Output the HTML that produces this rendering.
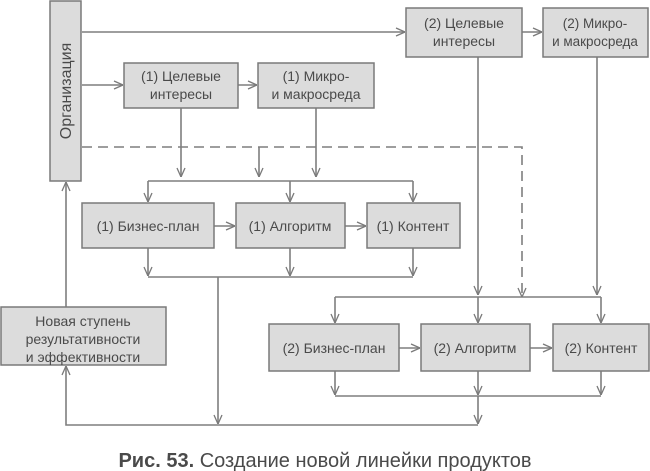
<!DOCTYPE html>
<html><head><meta charset="utf-8"><style>
html,body{margin:0;padding:0;background:#fff;}
svg{display:block;}
text{font-family:"Liberation Sans","DejaVu Sans",sans-serif;fill:#4a4a4a;}
</style></head><body>
<svg width="650" height="471" viewBox="0 0 650 471" xmlns="http://www.w3.org/2000/svg">
<defs>
<marker id="a" viewBox="0 0 10 10" refX="10" refY="5" markerWidth="10" markerHeight="10" markerUnits="userSpaceOnUse" orient="auto">
<path d="M1,1 L10,5 L1,9" fill="none" stroke="#7a7a7a" stroke-width="1.3"/>
</marker>
</defs>
<g stroke="#7f7f7f" stroke-width="1.6" fill="none">
<path d="M82 32 H405" marker-end="url(#a)"/>
<path d="M522 32 H542" marker-end="url(#a)"/>
<path d="M82 85 H123" marker-end="url(#a)"/>
<path d="M238 85 H257" marker-end="url(#a)"/>
<path d="M82 147 H522 V297" stroke-dasharray="10,6" marker-end="url(#a)"/>
<path d="M259 147 V177" marker-end="url(#a)"/>
<path d="M181 108 V177" marker-end="url(#a)"/>
<path d="M316 108 V177" marker-end="url(#a)"/>
<path d="M148 181 H413"/>
<path d="M148 181 V202" marker-end="url(#a)"/>
<path d="M290 181 V202" marker-end="url(#a)"/>
<path d="M413 181 V202" marker-end="url(#a)"/>
<path d="M214 226 H235" marker-end="url(#a)"/>
<path d="M345 226 H366" marker-end="url(#a)"/>
<path d="M148 248 V276" marker-end="url(#a)"/>
<path d="M290 248 V276" marker-end="url(#a)"/>
<path d="M413 248 V276" marker-end="url(#a)"/>
<path d="M148 277 H413"/>
<path d="M218 277 V424" marker-end="url(#a)"/>
<path d="M478 57 V295" marker-end="url(#a)"/>
<path d="M597 57 V295" marker-end="url(#a)"/>
<path d="M335 297 H601"/>
<path d="M335 297 V323" marker-end="url(#a)"/>
<path d="M478 297 V323" marker-end="url(#a)"/>
<path d="M601 297 V323" marker-end="url(#a)"/>
<path d="M399 348 H420" marker-end="url(#a)"/>
<path d="M530 348 H552" marker-end="url(#a)"/>
<path d="M335 371 V395" marker-end="url(#a)"/>
<path d="M478 371 V395" marker-end="url(#a)"/>
<path d="M601 371 V395" marker-end="url(#a)"/>
<path d="M335 396 H601"/>
<path d="M478 396 V424" marker-end="url(#a)"/>
<path d="M478 425 H66 V366" marker-end="url(#a)"/>
<path d="M66 307 V182" marker-end="url(#a)"/>
</g>
<g fill="#dcdcdc" stroke="#7a7a7a" stroke-width="1.5">
<rect x="50" y="1" width="31" height="180"/>
<rect x="406" y="8" width="116" height="49"/>
<rect x="543" y="8" width="105" height="49"/>
<rect x="124" y="63" width="114" height="45"/>
<rect x="258" y="63" width="116" height="45"/>
<rect x="82" y="203" width="132" height="45"/>
<rect x="236" y="203" width="109" height="45"/>
<rect x="367" y="203" width="93" height="45"/>
<rect x="269" y="324" width="130" height="47"/>
<rect x="421" y="324" width="109" height="47"/>
<rect x="553" y="324" width="96" height="47"/>
<rect x="1" y="307" width="165" height="58"/>
</g>
<g font-size="14" text-anchor="middle">
<text transform="translate(71,91) rotate(-90)" font-size="16">Организация</text>
<text x="464" y="28">(2) Целевые</text><text x="464" y="46">интересы</text>
<text x="595" y="28" font-size="13.5">(2) Микро-</text><text x="595" y="46" font-size="13.5">и макросреда</text>
<text x="181" y="81">(1) Целевые</text><text x="181" y="99">интересы</text>
<text x="316" y="81">(1) Микро-</text><text x="316" y="99">и макросреда</text>
<text x="148" y="231">(1) Бизнес-план</text>
<text x="290" y="231">(1) Алгоритм</text>
<text x="413" y="231">(1) Контент</text>
<text x="334" y="353">(2) Бизнес-план</text>
<text x="475" y="353">(2) Алгоритм</text>
<text x="601" y="353">(2) Контент</text>
<text x="83" y="326">Новая ступень</text>
<text x="83" y="344">результативности</text>
<text x="83" y="362">и эффективности</text>
</g>
<text x="325" y="467" font-size="20" text-anchor="middle" fill="#555"><tspan font-weight="bold">Рис. 53.</tspan> Создание новой линейки продуктов</text>
</svg>
</body></html>
